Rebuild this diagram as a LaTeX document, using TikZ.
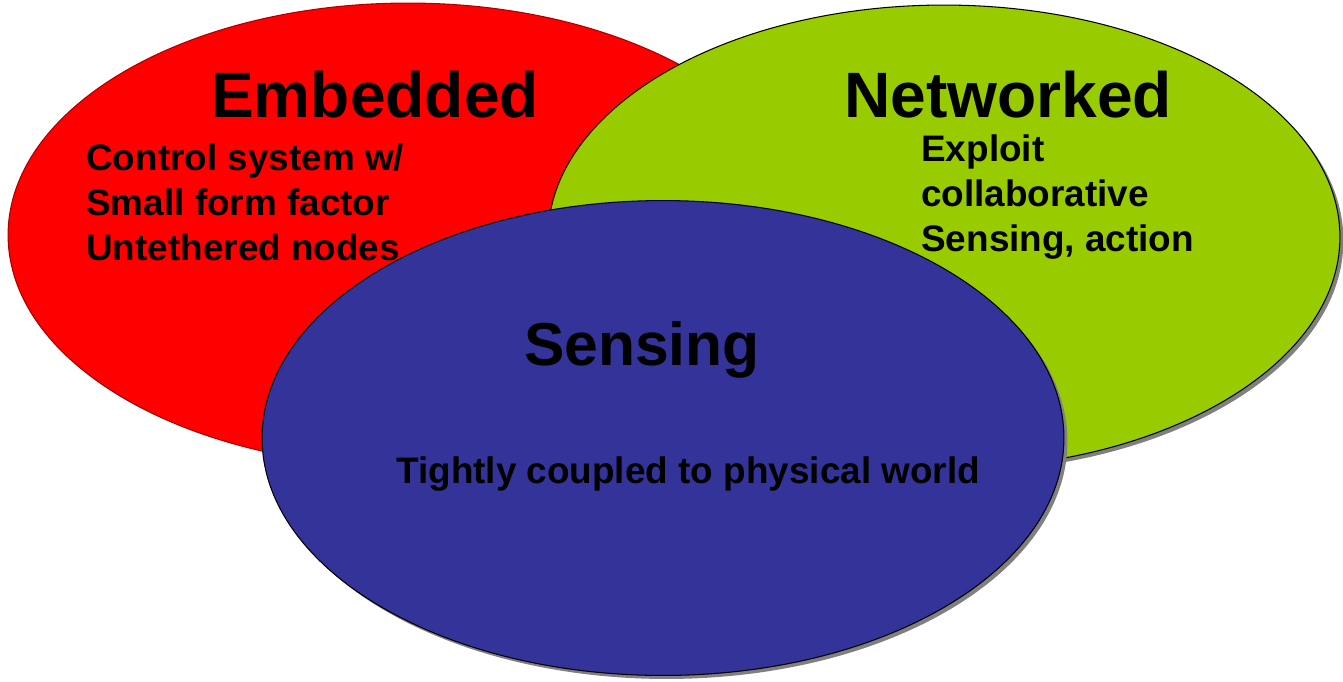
\documentclass[tikz,border=0pt]{standalone}
\usepackage{fontspec}
\setmainfont{Liberation Sans}
\usetikzlibrary{shapes.geometric, shadows}

\definecolor{embred}{HTML}{FF0000}
\definecolor{netgreen}{HTML}{99CC00}
\definecolor{senseblue}{HTML}{333399}

\begin{document}
\begin{tikzpicture}[
  x=0.02cm, y=-0.02cm,
  every node/.style={font=\bfseries},
  oval/.style={ellipse, draw=black, line width=0.6pt, inner sep=0pt},
  shade/.style={drop shadow={shadow xshift=0.07cm, shadow yshift=-0.07cm, fill=black!50, opacity=1}},
  title/.style={font=\fontsize{36.5}{40}\selectfont\bfseries, inner sep=0pt, anchor=base},
  body/.style={font=\fontsize{21}{25.6}\selectfont\bfseries, inner sep=0pt, align=left}
]
\useasboundingbox (0,0) rectangle (1343,681);

% Sets
\node[oval, draw=embred!65!black, fill=embred, minimum width=16cm, minimum height=9.28cm] (emb) at (408,235) {};
\node[oval, shade, fill=netgreen, minimum width=15.84cm, minimum height=9.28cm] (net) at (944,237) {};
\node[oval, shade, fill=senseblue, minimum width=16.04cm, minimum height=9.5cm] (sense) at (663,438) {};

% Titles
\node[title] (embT) at (375,117) {Embedded};
\node[title] (netT) at (1008,117) {Networked};
\node[title, font=\fontsize{34.5}{38}\selectfont\bfseries] (senseT) at (642,365) {Sensing};

% Descriptions (anchored on the last line)
\node[body, anchor=base west] (embD) at (86,260) {Control system w/\\Small form factor\\Untethered nodes};
\node[body, anchor=base west] (netD) at (921,251) {Exploit\\collaborative\\Sensing, action};
\node[body, anchor=base west] (senseD) at (396,483) {Tightly coupled to physical world};
\end{tikzpicture}
\end{document}
